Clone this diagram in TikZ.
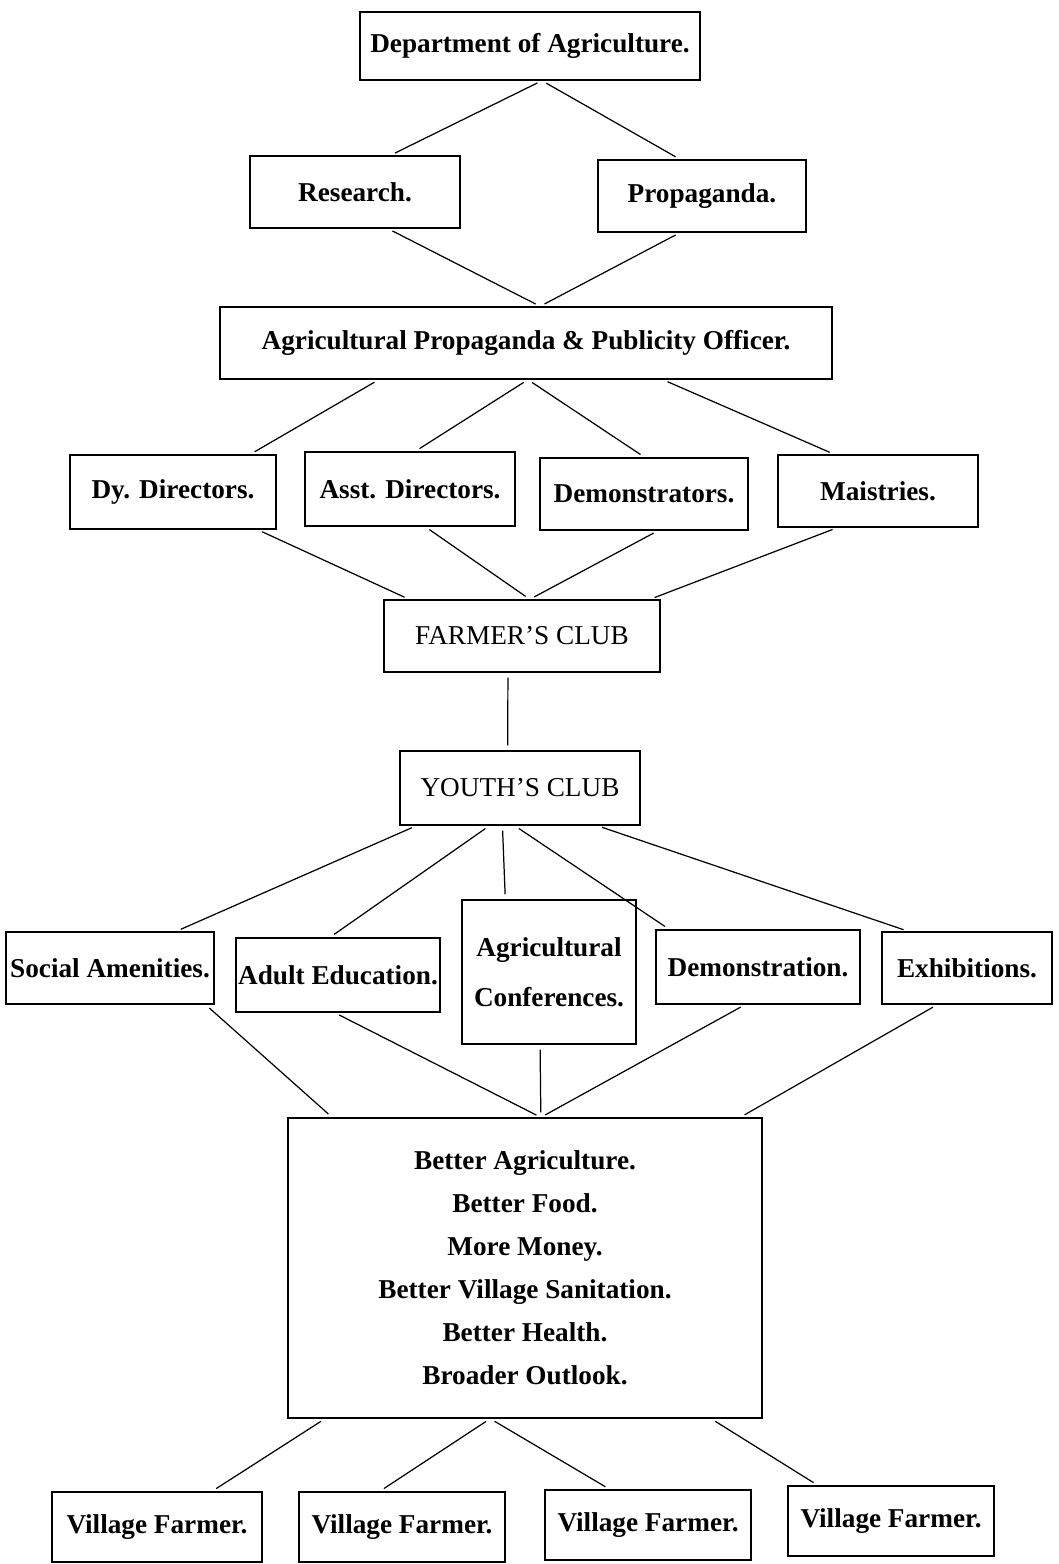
\documentclass[tikz,border=0pt]{standalone}
\usepackage{fontspec}
\setmainfont{Liberation Serif}
\usetikzlibrary{positioning}

\begin{document}
\begin{tikzpicture}[x=0.02cm, y=-0.02cm,
        orgbox/.style={rectangle, draw=black, line width=0.8pt, align=center,
                       inner sep=0pt, font=\fontsize{15.5}{18}\selectfont\bfseries},
        clubbox/.style={orgbox, font=\fontsize{15.5}{18}\selectfont},
        link/.style={line width=0.7pt, shorten <=0.1cm, shorten >=0.1cm}
      ]
        \useasboundingbox (0,0) rectangle (1058,1564);
        % head office
        \node[orgbox, minimum width=6.8cm, minimum height=1.36cm] (dept) at (530,46) {Department of Agriculture.};
        \node[orgbox, minimum width=4.2cm, minimum height=1.44cm] (research) at (355,192) {Research.};
        \node[orgbox, minimum width=4.16cm, minimum height=1.44cm] (propaganda) at (702,196) {Propaganda.};
        \node[orgbox, minimum width=12.24cm, minimum height=1.44cm] (officer) at (526,343) {Agricultural Propaganda \& Publicity Officer.};
        % staff
        \node[orgbox, minimum width=4.12cm, minimum height=1.48cm] (dydir) at (173,492) {Dy. Directors.};
        \node[orgbox, minimum width=4.2cm, minimum height=1.48cm] (asstdir) at (410,489) {Asst. Directors.};
        \node[orgbox, minimum width=4.16cm, minimum height=1.44cm] (demonstrators) at (644,494) {Demonstrators.};
        \node[orgbox, minimum width=4.0cm, minimum height=1.44cm] (maistries) at (878,491) {Maistries.};
        % clubs
        \node[clubbox, minimum width=5.52cm, minimum height=1.44cm] (farmclub) at (522,636) {FARMER'S CLUB};
        \node[clubbox, minimum width=4.8cm, minimum height=1.48cm] (youthclub) at (520,788) {YOUTH'S CLUB};
        % activities
        \node[orgbox, minimum width=4.16cm, minimum height=1.44cm] (amenities) at (110,968) {Social Amenities.};
        \node[orgbox, minimum width=4.08cm, minimum height=1.48cm] (adulted) at (338,975) {Adult Education.};
        \node[orgbox, minimum width=3.48cm, minimum height=2.88cm,
              font=\fontsize{15.5}{28.4}\selectfont\bfseries] (conferences) at (549,972) {Agricultural\\Conferences.};
        \node[orgbox, minimum width=4.08cm, minimum height=1.48cm] (demonstration) at (758,967) {Demonstration.};
        \node[orgbox, minimum width=3.4cm, minimum height=1.44cm] (exhibitions) at (967,968) {Exhibitions.};
        % aims
        \node[orgbox, minimum width=9.48cm, minimum height=6.0cm,
              font=\fontsize{15.5}{24.5}\selectfont\bfseries] (aims) at (525,1268)
              {Better Agriculture.\\Better Food.\\More Money.\\Better Village Sanitation.\\Better Health.\\Broader Outlook.};
        % farmers
        \node[orgbox, minimum width=4.2cm, minimum height=1.4cm] (farmer1) at (157,1527) {Village Farmer.};
        \node[orgbox, minimum width=4.12cm, minimum height=1.4cm] (farmer2) at (402,1527) {Village Farmer.};
        \node[orgbox, minimum width=4.12cm, minimum height=1.4cm] (farmer3) at (648,1525) {Village Farmer.};
        \node[orgbox, minimum width=4.12cm, minimum height=1.4cm] (farmer4) at (891,1521) {Village Farmer.};

        \draw[link] (dept.-71) -- (research.46);
        \draw[link] (dept.-71) -- (propaganda.121);
        \draw[link] (research.-48) -- (officer.69);
        \draw[link] (propaganda.-121) -- (officer.69);

        \draw[link] (officer.-166) -- (dydir.26);
        \draw[link] (officer.-87) -- (asstdir.82);
        \draw[link] (officer.-87) -- (demonstrators.89);
        \draw[link] (officer.-15) -- (maistries.140);

        \draw[link] (dydir.-24) -- (farmclub.162);
        \draw[link] (asstdir.-68) -- (farmclub.78);
        \draw[link] (demonstrators.-69) -- (farmclub.78);
        \draw[link] (maistries.-138) -- (farmclub.16);

        \draw[link] (farmclub.-111) -- (youthclub.108);

        \draw[link] (youthclub.-160) -- (amenities.29);
        \draw[link] (youthclub.-129) -- (adulted.102);
        \draw[link] (youthclub.-115) -- (conferences.121);
        \draw[link] (youthclub.-98) -- (demonstration.157);
        \draw[link] (youthclub.-26) -- (exhibitions.148);

        \draw[link] (amenities.-21) -- (aims.142);
        \draw[link] (adulted.-95) -- (aims.84);
        \draw[link] (conferences.-97) -- (aims.84);
        \draw[link] (demonstration.-109) -- (aims.84);
        \draw[link] (exhibitions.-129) -- (aims.35.5);

        \draw[link] (aims.-143) -- (farmer1.33);
        \draw[link] (aims.-103) -- (farmer2.122);
        \draw[link] (aims.-103) -- (farmer3.137);
        \draw[link] (aims.-39) -- (farmer4.154);
      \end{tikzpicture}
\end{document}
